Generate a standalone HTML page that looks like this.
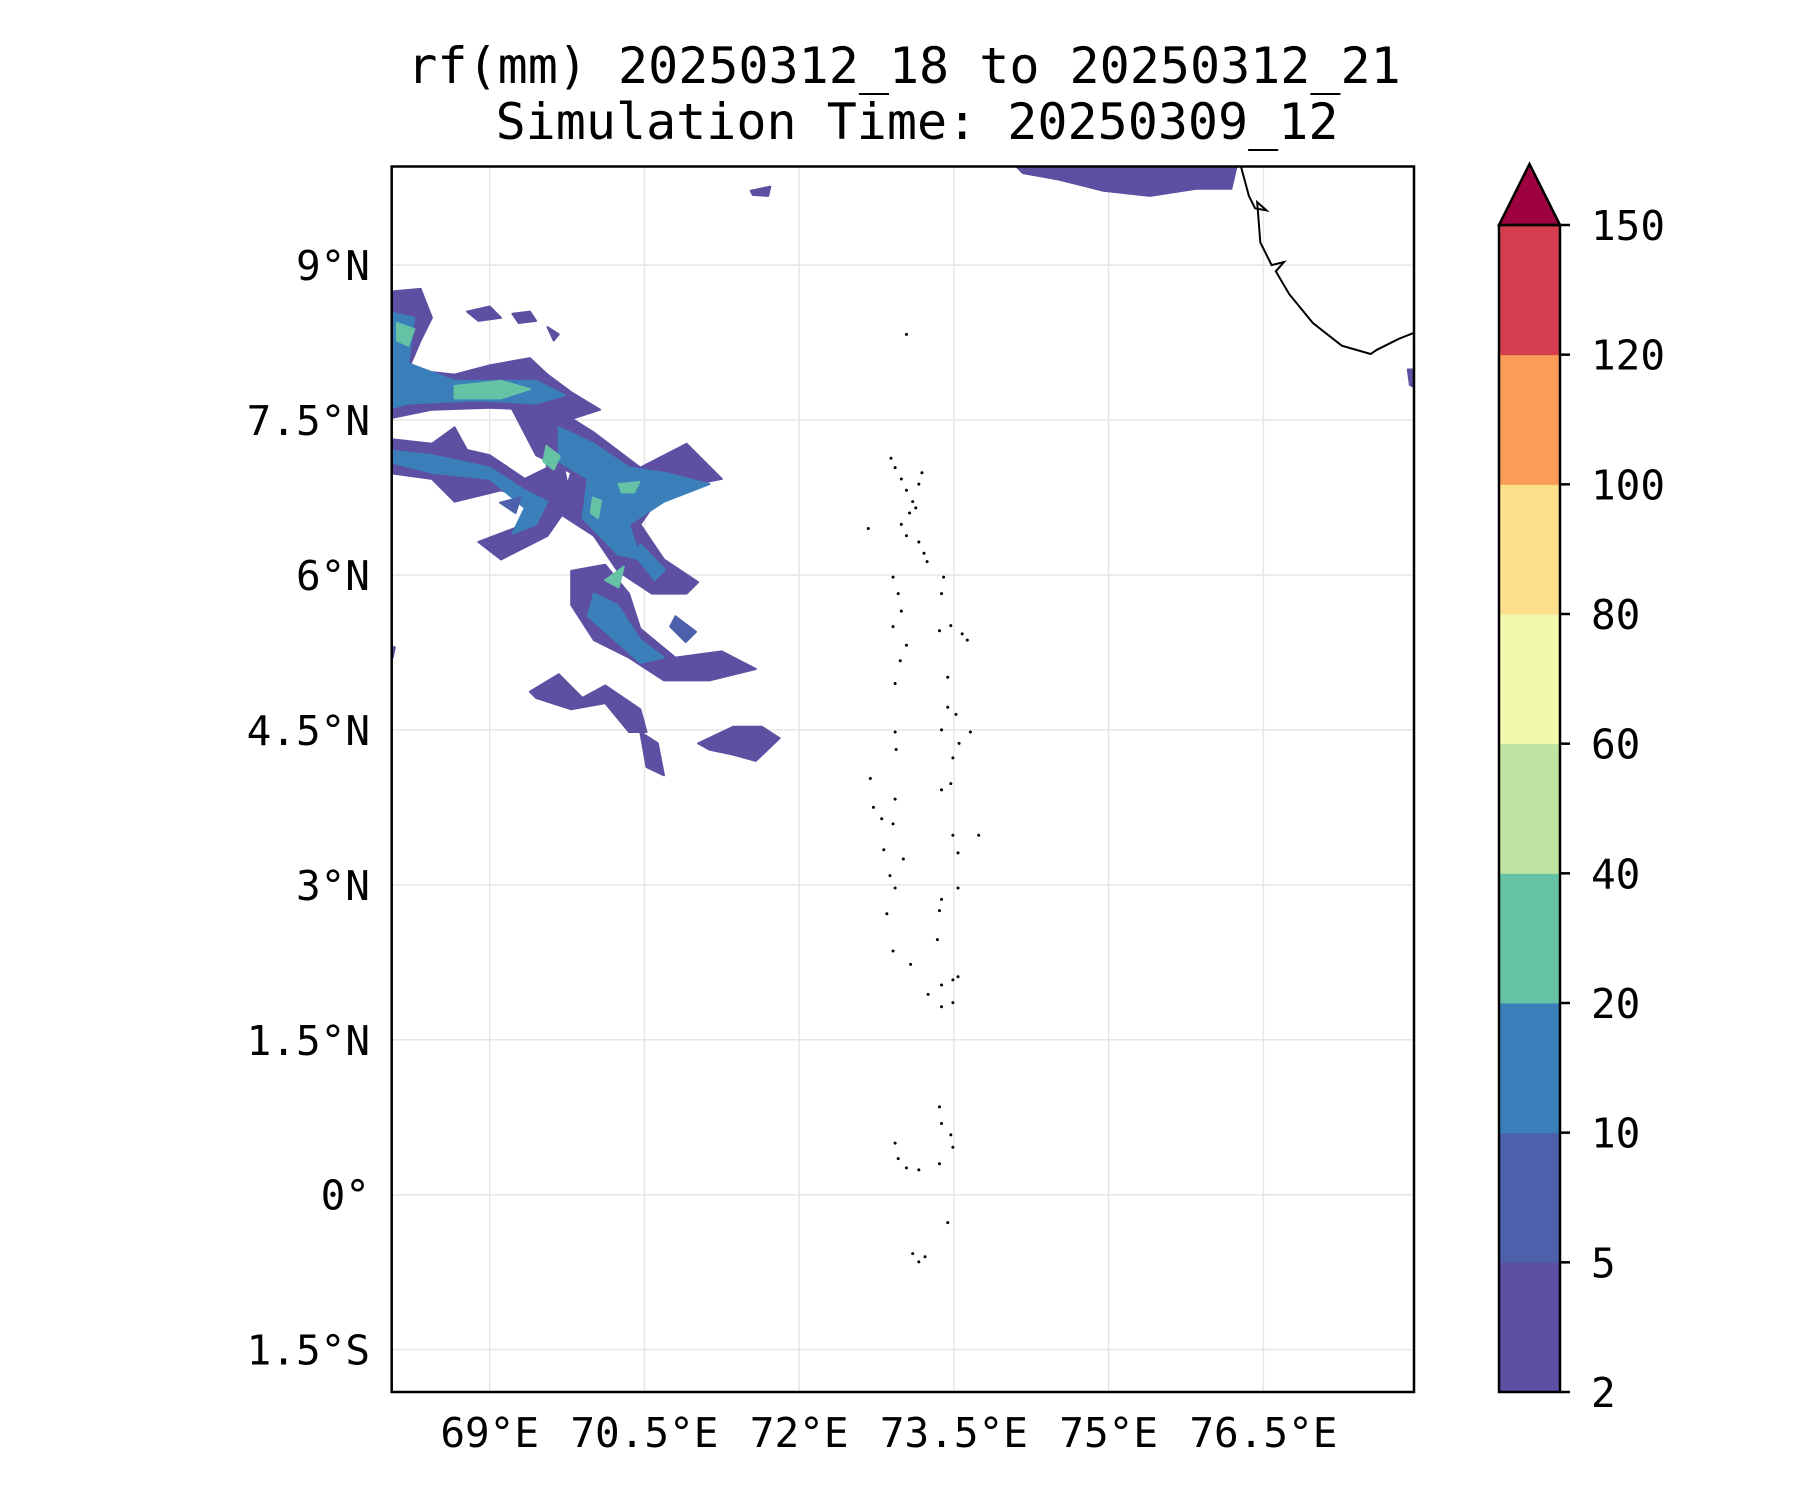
<!DOCTYPE html>
<html><head><meta charset="utf-8"><style>
html,body{margin:0;padding:0;background:#fff;}
svg{display:block;font-family:"DejaVu Sans Mono","Liberation Mono",monospace;}
</style></head><body>
<svg id="fig" width="1800" height="1500" viewBox="0 0 1800 1500" xmlns="http://www.w3.org/2000/svg">
<text x="904" y="83" font-size="50" text-anchor="middle">rf(mm) 20250312_18 to 20250312_21</text>
<text x="917" y="139" font-size="50" text-anchor="middle">Simulation Time: 20250309_12</text>
<defs><clipPath id="mapclip"><rect x="391.7" y="166.5" width="1022.3" height="1225.5"/></clipPath></defs>
<g id="grid"></g>
<g id="fills" clip-path="url(#mapclip)"></g>
<g id="coast" clip-path="url(#mapclip)"></g>
<rect x="391.7" y="166.5" width="1022.3" height="1225.5" fill="none" stroke="#000" stroke-width="2.5"/>
<g id="ticks"></g>
<g id="cbar"></g>
</svg>
<script>
const lonTicks=[69,70.5,72,73.5,75,76.5];
const lonLabels=["69°E","70.5°E","72°E","73.5°E","75°E","76.5°E"];
const latTicks=[-1.5,0,1.5,3,4.5,6,7.5,9];
const latLabels=["1.5°S","0°","1.5°N","3°N","4.5°N","6°N","7.5°N","9°N"];
const cbarLevels=[2,5,10,20,40,60,80,100,120,150];
const cbarColors=["#5e4fa2","#4c60ab","#3a7fba","#66c2a5","#bde4a0","#f2f9ae","#fde08b","#f99d59","#d53e4f"];
const extendColor="#9e0142";
// rainfall polygons: level index per polygon, and [lon,lat,...] vertices
const rainLevels=[0,0,0,0,2,3,3,0,2,0,2,0,2,0,0,0,0,0,0,0,0,3,3,3,3,2,1,1];
const rainPolys=[
[74.06,10,76.25,10,76.19,9.74,75.85,9.74,75.40,9.67,74.95,9.72,74.51,9.83,74.17,9.89],
[71.53,9.72,71.72,9.76,71.70,9.67,71.55,9.68],
[77.9,7.99,78,7.99,78,7.80,77.92,7.84],
[68,8.74,68.33,8.77,68.44,8.49,68.33,8.27,68.21,7.99,68.66,7.94,69.0,8.03,69.39,8.10,69.56,7.94,69.79,7.77,70.07,7.60,69.79,7.51,69.45,7.60,69.0,7.62,68.44,7.60,68,7.51],
[68,8.55,68.27,8.49,68.21,8.05,68.66,7.88,69.45,7.88,69.73,7.74,69.45,7.66,68.89,7.69,68.21,7.66,68,7.60],
[68.66,7.83,69.11,7.88,69.39,7.80,69.11,7.71,68.66,7.71],
[68.10,8.44,68.27,8.38,68.21,8.22,68.10,8.27],
[68,7.32,68.44,7.27,68.66,7.43,68.78,7.21,69.0,7.16,69.34,6.93,69.56,7.04,69.45,7.38,69.67,7.27,69.79,6.71,69.56,6.38,69.11,6.15,68.89,6.32,69.34,6.49,69.45,6.71,69.11,6.82,68.66,6.71,68.44,6.93,68,6.99],
[68,7.21,68.44,7.16,69.0,7.04,69.34,6.82,69.56,6.71,69.45,6.49,69.22,6.40,69.34,6.65,69.0,6.93,68.44,6.99,68,7.10],
[69.22,7.60,69.56,7.66,70.01,7.38,70.46,7.04,70.91,7.27,71.25,6.93,70.69,6.82,70.46,6.49,70.69,6.15,71.02,5.93,70.91,5.82,70.57,5.82,70.24,6.04,70.01,6.38,69.67,6.60,69.79,6.99,69.45,7.16],
[69.67,7.43,70.01,7.27,70.35,7.04,70.69,6.99,71.13,6.88,70.69,6.71,70.35,6.49,70.46,6.15,70.24,6.20,69.90,6.55,69.95,6.93,69.67,7.10],
[69.79,6.04,70.12,6.10,70.35,5.82,70.46,5.48,70.80,5.20,71.25,5.26,71.58,5.09,71.13,4.98,70.69,4.98,70.35,5.20,70.01,5.37,69.79,5.71],
[70.01,5.82,70.24,5.71,70.46,5.37,70.69,5.20,70.46,5.15,70.18,5.40,69.95,5.60],
[69.39,4.87,69.67,5.04,69.90,4.81,70.12,4.93,70.46,4.70,70.52,4.48,70.35,4.48,70.12,4.76,69.79,4.70,69.45,4.81],
[70.46,4.48,70.63,4.37,70.69,4.06,70.52,4.14],
[71.02,4.37,71.36,4.53,71.64,4.53,71.81,4.42,71.58,4.20,71.36,4.26,71.13,4.31],
[68.78,8.55,69.0,8.60,69.11,8.49,68.89,8.46],
[69.22,8.53,69.39,8.55,69.45,8.46,69.28,8.44],
[69.56,8.40,69.67,8.33,69.62,8.27],
[68,5.82,68.05,5.80,68.05,5.65,68,5.70],
[68,5.32,68.08,5.30,68.06,5.20,68,5.22],
[69.55,7.25,69.68,7.15,69.62,7.02,69.52,7.10],
[70.25,6.88,70.45,6.90,70.40,6.80,70.28,6.80],
[70.0,6.75,70.08,6.72,70.05,6.55,69.98,6.60],
[70.12,5.95,70.30,6.08,70.25,5.88],
[70.46,6.30,70.70,6.05,70.60,5.95,70.40,6.20],
[70.8,5.6,71.0,5.45,70.9,5.35,70.75,5.5],
[69.1,6.7,69.3,6.75,69.25,6.6]
];
const coastLon=[76.27,76.36,76.42,76.53,76.44,76.47,76.58,76.70,76.62,76.75,76.98,77.26,77.54,77.60,77.82,78.0];
const coastLat=[10,9.67,9.55,9.53,9.61,9.22,9.0,9.03,8.94,8.72,8.44,8.22,8.14,8.18,8.29,8.36];
const islandLon=[72.89,72.93,72.99,73.04,73.10,73.16,73.19,73.13,73.07,72.99,73.04,73.16,73.21,73.24,72.67,72.91,72.96,72.99,72.91,73.04,72.98,72.93,73.40,73.38,73.36,73.47,73.58,73.63,73.44,73.44,73.52,73.66,73.38,73.55,73.49,72.93,72.94,72.69,72.72,72.80,72.91,72.93,73.47,73.38,73.49,73.74,72.82,73.01,72.88,72.93,73.54,73.54,73.38,73.36,72.85,73.34,72.91,73.08,73.25,73.38,73.49,73.54,73.49,73.38,73.36,73.38,73.49,73.47,72.93,72.96,73.04,73.16,73.36,73.44,73.10,73.16,73.22,73.04];
const islandLat=[7.13,7.04,6.93,6.82,6.71,6.88,6.99,6.65,6.60,6.49,6.38,6.32,6.21,6.13,6.45,5.98,5.82,5.65,5.50,5.32,5.17,4.95,5.98,5.82,5.46,5.51,5.43,5.37,5.01,4.72,4.65,4.48,4.50,4.37,4.23,4.48,4.31,4.03,3.75,3.64,3.59,3.83,3.98,3.92,3.48,3.48,3.34,3.25,3.09,2.97,3.31,2.97,2.86,2.75,2.72,2.47,2.36,2.23,1.94,2.03,2.08,2.11,1.86,1.82,0.85,0.69,0.46,0.58,0.50,0.35,0.26,0.24,0.30,-0.27,-0.57,-0.65,-0.60,8.33];
const NS="http://www.w3.org/2000/svg";
const X0=391.7,X1=1414,Y0=166.5,Y1=1392,LON0=68.05,LON1=77.96,LAT0=-1.91,LAT1=9.955;
function px(lon){return X0+(lon-LON0)/(LON1-LON0)*(X1-X0);}
function py(lat){return Y0+(LAT1-lat)/(LAT1-LAT0)*(Y1-Y0);}
function mk(tag,attrs,parent){const e=document.createElementNS(NS,tag);for(const k in attrs)e.setAttribute(k,attrs[k]);parent.appendChild(e);return e;}
const grid=document.getElementById('grid'),ticks=document.getElementById('ticks');
lonTicks.forEach((v,i)=>{
 const l=mk('line',{x1:px(v),x2:px(v),y1:Y0,y2:Y1,stroke:'#e6e6e6','stroke-width':1.5},grid);
 
 
 const t=mk('text',{x:px(v),y:1447,'font-size':41,'text-anchor':'middle'},ticks);t.textContent=lonLabels[i];
 
 
});
latTicks.forEach((v,i)=>{
 const l=mk('line',{x1:X0,x2:X1,y1:py(v),y2:py(v),stroke:'#e6e6e6','stroke-width':1.5},grid);
 
 
 const t=mk('text',{x:370,y:py(v)+15,'font-size':41,'text-anchor':'end'},ticks);t.textContent=latLabels[i];
 
 
});
const fills=document.getElementById('fills');
rainPolys.forEach((p,i)=>{
 const pts=[];for(let j=0;j<p.length;j+=2)pts.push(px(p[j]).toFixed(1)+','+py(p[j+1]).toFixed(1));
 const e=mk('polygon',{points:pts.join(' '),fill:cbarColors[rainLevels[i]],stroke:cbarColors[rainLevels[i]],'stroke-width':2,'stroke-linejoin':'round'},fills);
 
 
});
const coast=document.getElementById('coast');
const cp=coastLon.map((v,i)=>px(v).toFixed(1)+','+py(coastLat[i]).toFixed(1)).join(' ');
const cl=mk('polyline',{points:cp,fill:'none',stroke:'#000','stroke-width':2},coast);


islandLon.forEach((v,i)=>{
 const d=mk('circle',{cx:px(v),cy:py(islandLat[i]),r:1.5,fill:'#000'},coast);
 
 
});
const cbar=document.getElementById('cbar');
const CX0=1499,CX1=1560,CT=225,CB=1392,n=cbarColors.length,seg=(CB-CT)/n;
cbarColors.forEach((c,i)=>{
 const r=mk('rect',{x:CX0,y:CB-(i+1)*seg,width:CX1-CX0,height:seg+0.5,fill:c},cbar);
 
 
});
const tri=mk('polygon',{points:`${CX0},${CT} ${(CX0+CX1)/2},164 ${CX1},${CT}`,fill:extendColor,stroke:'#000','stroke-width':2.5},cbar);


const fr=mk('rect',{x:CX0,y:CT,width:CX1-CX0,height:CB-CT,fill:'none',stroke:'#000','stroke-width':2.5},cbar);


cbarLevels.forEach((v,i)=>{
 const y=CB-i*seg;
 const tk=mk('line',{x1:CX1,x2:CX1+10,y1:y,y2:y,stroke:'#000','stroke-width':2.5},cbar);
 
 
 const t=mk('text',{x:1591,y:y+15,'font-size':41},cbar);t.textContent=v;
 
 
});
</script>
</body></html>
